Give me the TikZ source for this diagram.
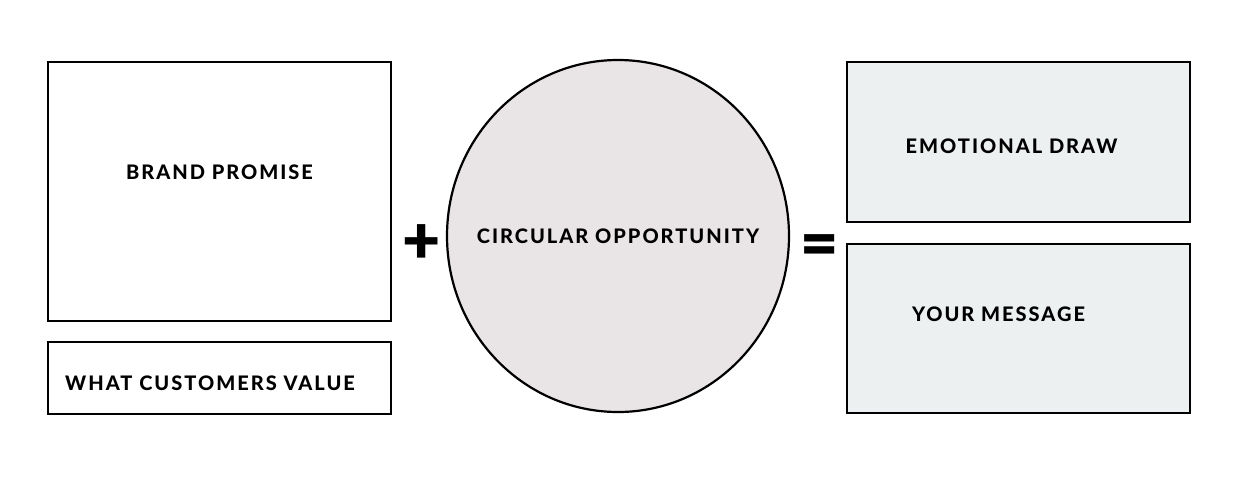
\documentclass[tikz,border=0pt]{standalone}
\usepackage{fontspec}
\usetikzlibrary{shapes,positioning,calc}
\newfontfamily\labelfont{Lato Heavy}[LetterSpace=10.0]
\newfontfamily\signfont{Lato Black}
\definecolor{Circlecol}{HTML}{E9E4E6}
\definecolor{Greycol}{HTML}{EDF0F1}
\tikzstyle{sign} = [font=\signfont\fontsize{66}{66}\selectfont, inner sep=0pt]
\tikzset{
  basic box/.style = {
    shape = rectangle,
    draw,
    line width = 2.7pt,
    inner sep = 0pt,
    outer sep = 0pt,
    minimum width = 343pt,
    },
  white box/.style = {
    basic box,
    fill = white,
  },
  grey box/.style = {
    basic box,
    fill = Greycol,
  },
  opportunity/.style = {
    shape = ellipse,
    draw,
    line width = 2.2pt,
    fill = Circlecol,
    minimum width = 342pt,
    minimum height = 352pt,
    inner sep = 0pt,
  },
  caption/.style = {
    font = \labelfont\fontsize{20}{20}\selectfont,
    inner sep = 0pt,
    text depth = 0pt,
  }
}

\begin{document}
\begin{tikzpicture}[x=1pt,y=-1pt]
    \useasboundingbox (0,0) rectangle (1252,480);

    % left side
    \node [white box, minimum height=259pt] (promise) at (219.5,191.5) {};
    \node [white box, minimum height=72pt, below=21pt of promise] (value) {};

    \node [caption] (promise-txt) at ([yshift=-110pt]promise.north) {BRAND PROMISE};
    \node [caption, anchor=west] (value-txt) at ([xshift=17pt,yshift=-5pt]value.west) {WHAT CUSTOMERS VALUE};

    % middle
    \node [opportunity] (circ) at (618,236) {};
    \node [caption] (circ-txt) at (circ.center) {CIRCULAR OPPORTUNITY};

    % right side
    \node [grey box, minimum height=160pt] (emotion) at (1018.5,142) {};
    \node [grey box, minimum height=169pt, below=22pt of emotion] (message) {};

    \node [caption] (emotion-txt) at ([xshift=-7pt,yshift=-84pt]emotion.north) {EMOTIONAL DRAW};
    \node [caption] (message-txt) at ([xshift=-20pt,yshift=-70.5pt]message.north) {YOUR MESSAGE};

    % signs
    \node [sign] (plus) at (422,244) {+};
    \node [sign] (equals) at (820,251) {=};

\end{tikzpicture}
\end{document}
